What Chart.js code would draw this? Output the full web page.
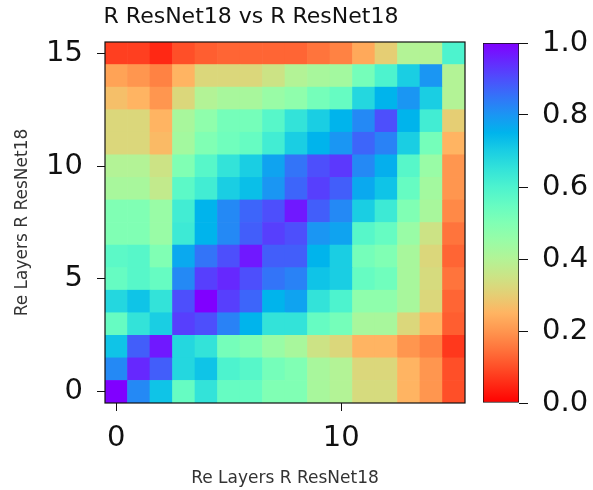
<!DOCTYPE html>
<html>
<head>
<meta charset="utf-8">
<script src="https://cdn.jsdelivr.net/npm/chart.js@4.4.0/dist/chart.umd.min.js"></script>
<style>
  body { margin: 0; background: #fff; }
  #wrap { position: relative; width: 593px; height: 490px; }
  #heat { position: absolute; left: 0; top: 0; }
  #bar { position: absolute; left: 470px; top: 0; }
</style>
</head>
<body>
<div id="wrap">
  <canvas id="heat" width="502" height="490"></canvas>
  <canvas id="bar" width="123" height="490"></canvas>
</div>
<script>
var titre = 'R ResNet18 vs R ResNet18';
var labelAxe = 'Re Layers R ResNet18';

var couches = ['0','1','2','3','4','5','6','7','8','9','10','11','12','13','14','15'];
var ticksX = [0, 10];
var ticksY = [0, 5, 10, 15];
var ticksBarre = [0, 0.2, 0.4, 0.6, 0.8, 1.0];

// une ligne par couche (y), de bas en haut
var ligne0  = [1.00,0.82,0.72,0.55,0.65,0.55,0.55,0.50,0.50,0.42,0.40,0.33,0.33,0.25,0.20,0.10];
var ligne1  = [0.82,0.95,0.88,0.68,0.72,0.60,0.58,0.52,0.50,0.42,0.40,0.32,0.32,0.25,0.20,0.10];
var ligne2  = [0.72,0.88,0.97,0.68,0.65,0.52,0.50,0.45,0.42,0.35,0.32,0.25,0.25,0.20,0.17,0.07];
var ligne3  = [0.55,0.65,0.70,0.92,0.90,0.83,0.75,0.65,0.65,0.55,0.52,0.42,0.42,0.32,0.25,0.12];
var ligne4  = [0.68,0.72,0.65,0.90,1.00,0.92,0.87,0.75,0.78,0.65,0.60,0.47,0.47,0.42,0.32,0.13];
var ligne5  = [0.55,0.58,0.55,0.82,0.92,0.95,0.90,0.85,0.83,0.72,0.70,0.55,0.53,0.42,0.33,0.15];
var ligne6  = [0.57,0.58,0.50,0.77,0.85,0.90,0.97,0.88,0.88,0.75,0.70,0.52,0.50,0.42,0.32,0.13];
var ligne7  = [0.50,0.50,0.45,0.63,0.75,0.82,0.88,0.92,0.90,0.80,0.78,0.58,0.55,0.45,0.35,0.15];
var ligne8  = [0.50,0.50,0.45,0.62,0.75,0.82,0.87,0.90,0.97,0.88,0.82,0.70,0.63,0.50,0.42,0.18];
var ligne9  = [0.42,0.42,0.37,0.57,0.62,0.70,0.73,0.80,0.87,0.92,0.88,0.77,0.72,0.55,0.43,0.20];
var ligne10 = [0.40,0.40,0.35,0.50,0.58,0.65,0.70,0.78,0.85,0.90,0.93,0.82,0.76,0.58,0.45,0.20];
var ligne11 = [0.32,0.32,0.26,0.43,0.50,0.53,0.55,0.62,0.70,0.75,0.80,0.87,0.83,0.70,0.52,0.25];
var ligne12 = [0.32,0.32,0.25,0.42,0.47,0.52,0.52,0.58,0.65,0.70,0.75,0.82,0.90,0.75,0.62,0.30];
var ligne13 = [0.27,0.25,0.20,0.32,0.40,0.42,0.42,0.45,0.47,0.52,0.55,0.68,0.75,0.80,0.70,0.40];
var ligne14 = [0.22,0.20,0.17,0.25,0.32,0.32,0.32,0.35,0.40,0.42,0.43,0.52,0.60,0.70,0.80,0.40];
var ligne15 = [0.08,0.08,0.05,0.10,0.12,0.13,0.13,0.13,0.13,0.15,0.17,0.23,0.30,0.40,0.40,0.60];

var lignes = [ligne0, ligne1, ligne2, ligne3, ligne4, ligne5, ligne6, ligne7,
              ligne8, ligne9, ligne10, ligne11, ligne12, ligne13, ligne14, ligne15];

var police = '"DejaVu Sans", sans-serif';
var noir = '#111';

// colormap rainbow inversee (0 = rouge, 1 = violet)
function couleur(v) {
    var x = 1 - v;
    var r = Math.min(1, Math.abs(2 * x - 0.5));
    var g = Math.max(0, Math.sin(Math.PI * x));
    var b = Math.max(0, Math.cos(Math.PI * x / 2));
    return 'rgb(' + Math.round(r * 255) + ',' + Math.round(g * 255) + ',' + Math.round(b * 255) + ')';
}

var datasets = lignes.map(function (valeurs, y) {
    return {
        data: valeurs.map(function () { return [y - 0.5, y + 0.5]; }),
        backgroundColor: valeurs.map(couleur),
        borderWidth: 0,
        grouped: false,
        barPercentage: 1,
        categoryPercentage: 1
    };
});

// cadre noir autour de la zone + titre (centre comme dans la figure d'origine)
var cadre = {
    id: 'cadre',
    afterDraw: function (chart) {
        var a = chart.chartArea;
        var ctx = chart.ctx;
        ctx.save();
        ctx.strokeStyle = noir;
        ctx.lineWidth = 1.2;
        ctx.strokeRect(a.left, a.top, a.right - a.left, a.bottom - a.top);
        ctx.fillStyle = noir;
        ctx.font = '22px ' + police;
        ctx.textAlign = 'center';
        ctx.textBaseline = 'middle';
        ctx.fillText(titre, 251, 17);
        ctx.restore();
    }
};

new Chart(document.getElementById('heat'), {
    type: 'bar',
    data: { labels: couches, datasets: datasets },
    plugins: [cadre],
    options: {
        responsive: false,
        animation: false,
        layout: { padding: { top: 42, right: 37 } },
        plugins: {
            legend: { display: false },
            tooltip: { enabled: false }
        },
        scales: {
            x: {
                grid: {
                    offset: false,
                    drawOnChartArea: false,
                    tickLength: 8,
                    color: function (c) {
                        return ticksX.indexOf(c.index) >= 0 ? noir : 'rgba(0,0,0,0)';
                    }
                },
                border: { display: false },
                ticks: {
                    autoSkip: false,
                    maxRotation: 0,
                    padding: 10,
                    color: noir,
                    font: { family: police, size: 29 },
                    callback: function (val) {
                        return ticksX.indexOf(val) >= 0 ? couches[val] : '';
                    }
                },
                title: {
                    display: true,
                    text: labelAxe,
                    color: '#333',
                    font: { family: police, size: 17 },
                    padding: { top: 0, bottom: 1 }
                },
                afterFit: function (s) { s.height = 87; }
            },
            y: {
                min: -0.5,
                max: 15.5,
                afterBuildTicks: function (s) {
                    s.ticks = ticksY.map(function (v) { return { value: v }; });
                },
                grid: { drawOnChartArea: false, tickLength: 8, color: noir },
                border: { display: false },
                ticks: {
                    padding: 14,
                    color: noir,
                    font: { family: police, size: 29 }
                },
                title: {
                    display: true,
                    text: labelAxe,
                    color: '#333',
                    font: { family: police, size: 17 },
                    padding: { top: 12, bottom: 0 }
                },
                afterFit: function (s) { s.width = 105; }
            }
        }
    }
});

// barre de couleur
function degrade(c) {
    var a = c.chart.chartArea;
    if (!a) return couleur(0.5);
    var g = c.chart.ctx.createLinearGradient(0, a.bottom, 0, a.top);
    for (var i = 0; i <= 20; i++) {
        g.addColorStop(i / 20, couleur(i / 20));
    }
    return g;
}

new Chart(document.getElementById('bar'), {
    type: 'bar',
    data: {
        labels: ['cb'],
        datasets: [{
            data: [[0, 1]],
            backgroundColor: degrade,
            borderColor: noir,
            borderWidth: 1,
            borderSkipped: false,
            barPercentage: 1,
            categoryPercentage: 1
        }]
    },
    options: {
        responsive: false,
        animation: false,
        layout: { padding: { left: 13, top: 43, bottom: 87 } },
        plugins: { legend: { display: false }, tooltip: { enabled: false } },
        scales: {
            x: { display: false },
            y: {
                position: 'right',
                min: 0,
                max: 1,
                afterBuildTicks: function (s) {
                    s.ticks = ticksBarre.map(function (v) { return { value: v }; });
                },
                grid: { drawOnChartArea: false, tickLength: 9, color: noir },
                border: { display: false },
                ticks: {
                    padding: 14,
                    color: noir,
                    font: { family: police, size: 29 },
                    callback: function (v) { return v.toFixed(1); }
                },
                afterFit: function (s) { s.width = 74; }
            }
        }
    }
});
</script>
</body>
</html>
